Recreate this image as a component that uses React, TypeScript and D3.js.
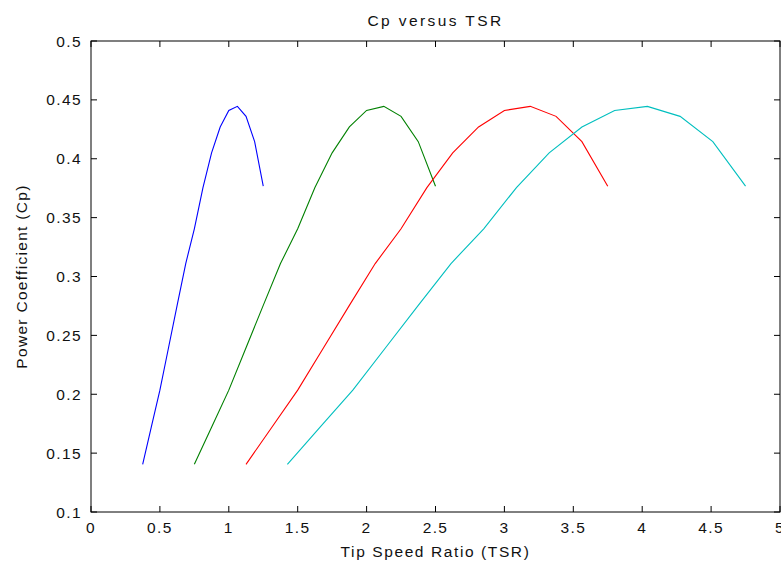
import React from "react";
import * as d3 from "d3";

const cpValues = [0.1405, 0.172, 0.2035, 0.2395, 0.2755, 0.311, 0.3405, 0.3755, 0.405, 0.427, 0.441, 0.4445, 0.436, 0.4145, 0.3767];
const tsrBlue = [0.375, 0.4375, 0.5, 0.5625, 0.625, 0.6875, 0.75, 0.8125, 0.875, 0.9375, 1.0, 1.0625, 1.125, 1.1875, 1.25];
const tsrGreen = [0.75, 0.875, 1.0, 1.125, 1.25, 1.375, 1.5, 1.625, 1.75, 1.875, 2.0, 2.125, 2.25, 2.375, 2.5];
const tsrRed = [1.125, 1.3125, 1.5, 1.6875, 1.875, 2.0625, 2.25, 2.4375, 2.625, 2.8125, 3.0, 3.1875, 3.375, 3.5625, 3.75];
const tsrCyan = [1.425, 1.6625, 1.9, 2.1375, 2.375, 2.6125, 2.85, 3.0875, 3.325, 3.5625, 3.8, 4.0375, 4.275, 4.5125, 4.75];
const seriesColors = ["#0000ff", "#008000", "#ff0000", "#00bfbf"];
const xTicks = [0, 0.5, 1, 1.5, 2, 2.5, 3, 3.5, 4, 4.5, 5];
const yTicks = [0.1, 0.15, 0.2, 0.25, 0.3, 0.35, 0.4, 0.45, 0.5];
const titleText = "Cp versus TSR";
const xLabelText = "Tip Speed Ratio (TSR)";
const yLabelText = "Power Coefficient (Cp)";

const W = 781;
const H = 563;
const L = 91, R = 780, T = 41, B = 512;
const FONT = "'Liberation Sans', Arial, sans-serif";

export default function App() {
  const x = d3.scaleLinear().domain([0, 5]).range([L, R]);
  const y = d3.scaleLinear().domain([0.1, 0.5]).range([B, T]);
  const line = d3.line<[number, number]>().x((d) => x(d[0])).y((d) => y(d[1]));
  const series = [tsrBlue, tsrGreen, tsrRed, tsrCyan].map((xs) => xs.map((v, i) => [v, cpValues[i]] as [number, number]));
  const tl = 6;
  const fmt = (v: number) => String(v);
  return (
    <svg width={W} height={H} style={{ position: "fixed", left: 0, top: 0, background: "#fff" }} fontFamily={FONT} fill="#111">
      <rect x={0} y={0} width={W} height={H} fill="#fff" />
      {series.map((pts, i) => (
        <path key={i} d={line(pts) || ""} fill="none" stroke={seriesColors[i]} strokeWidth={1.1} />
      ))}
      <rect x={L} y={T} width={R - L} height={B - T} fill="none" stroke="#000" strokeWidth={1} />
      {xTicks.map((t) => (
        <g key={"x" + t}>
          <line x1={x(t)} x2={x(t)} y1={B} y2={B - tl} stroke="#000" />
          <line x1={x(t)} x2={x(t)} y1={T} y2={T + tl} stroke="#000" />
          <text x={x(t)} y={533} textAnchor="middle" fontSize={15.5} letterSpacing={1.4}>{fmt(t)}</text>
        </g>
      ))}
      {yTicks.map((t) => (
        <g key={"y" + t}>
          <line x1={L} x2={L + tl} y1={y(t)} y2={y(t)} stroke="#000" />
          <line x1={R} x2={R - tl} y1={y(t)} y2={y(t)} stroke="#000" />
          <text x={82} y={y(t) + 5.5} textAnchor="end" fontSize={15.5} letterSpacing={1.4}>{fmt(t)}</text>
        </g>
      ))}
      <text x={(L + R) / 2} y={26} textAnchor="middle" fontSize={15.5} letterSpacing={2.4}>{titleText}</text>
      <text x={(L + R) / 2} y={557} textAnchor="middle" fontSize={15.5} letterSpacing={1.6}>{xLabelText}</text>
      <text transform={`translate(27, ${(T + B) / 2}) rotate(-90)`} textAnchor="middle" fontSize={15.5} letterSpacing={1.3}>{yLabelText}</text>
    </svg>
  );
}
